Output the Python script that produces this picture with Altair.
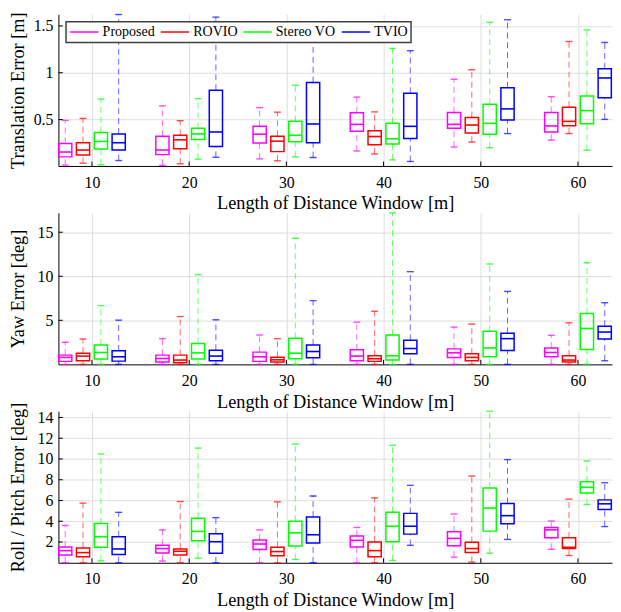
import altair as alt
import pandas as pd

windows = [10, 20, 30, 40, 50, 60]
methods = ["Proposed", "ROVIO", "Stereo VO", "TVIO"]
colors = ["#FF00FF", "#FF0000", "#00FF00", "#0000FF"]
offsets = [-2.75, -0.92, 0.92, 2.75]   # layout: position of each method inside a group
half_box = 0.68                         # layout: half box width in x units

# [lower whisker, Q1, median, Q3, upper whisker] for windows 10..60
trans_proposed = [[0.014, 0.102, 0.154, 0.246, 0.491], [0.011, 0.126, 0.175, 0.323, 0.646],
                  [0.081, 0.249, 0.344, 0.428, 0.628], [0.165, 0.375, 0.449, 0.572, 0.740],
                  [0.207, 0.407, 0.449, 0.575, 0.930], [0.281, 0.368, 0.432, 0.575, 0.744]]
trans_rovio = [[0.035, 0.123, 0.175, 0.253, 0.512], [0.028, 0.189, 0.284, 0.333, 0.488],
               [0.060, 0.158, 0.270, 0.323, 0.579], [0.133, 0.232, 0.319, 0.382, 0.582],
               [0.260, 0.358, 0.442, 0.523, 1.032], [0.351, 0.435, 0.481, 0.632, 1.333]]
trans_stereo = [[0.018, 0.186, 0.267, 0.361, 0.719], [0.077, 0.288, 0.347, 0.407, 0.723],
                [0.102, 0.263, 0.333, 0.481, 0.867], [0.070, 0.239, 0.295, 0.460, 1.260],
                [0.200, 0.344, 0.460, 0.663, 1.537], [0.172, 0.456, 0.596, 0.751, 1.456]]
trans_tvio = [[0.063, 0.175, 0.253, 0.347, 1.621], [0.098, 0.214, 0.368, 0.814, 1.593],
              [0.095, 0.253, 0.453, 0.895, 1.400], [0.053, 0.298, 0.428, 0.782, 1.235],
              [0.351, 0.495, 0.614, 0.839, 1.565], [0.502, 0.733, 0.944, 1.042, 1.323]]

yaw_proposed = [[0, 0.34, 0.79, 1.05, 2.51], [0, 0.26, 0.67, 1.05, 2.92], [0, 0.34, 0.86, 1.39, 3.33],
                [0, 0.41, 0.94, 1.65, 4.79], [0, 0.79, 1.31, 1.76, 4.23], [0, 0.86, 1.35, 1.87, 3.30]]
yaw_rovio = [[0, 0.41, 0.94, 1.27, 2.88], [0, 0.19, 0.49, 1.05, 5.43], [0, 0.26, 0.52, 0.82, 2.92],
             [0, 0.34, 0.64, 0.97, 6.03], [0, 0.41, 0.79, 1.20, 4.57], [0, 0.26, 0.49, 0.97, 4.72]]
yaw_stereo = [[0, 0.60, 1.35, 2.21, 6.67], [0, 0.60, 1.31, 2.36, 10.19], [0, 0.64, 1.27, 2.96, 14.31],
              [0, 0.49, 0.97, 3.33, 17.2], [0, 0.86, 1.87, 3.75, 11.39], [0, 1.69, 4.08, 5.77, 11.54]]
yaw_tvio = [[0, 0.37, 0.86, 1.54, 5.02], [0, 0.41, 0.94, 1.61, 5.06], [0, 0.75, 1.46, 2.21, 7.23],
            [0, 1.20, 1.80, 2.73, 10.52], [0, 1.57, 2.92, 3.52, 8.28], [0.41, 2.88, 3.67, 4.34, 7.00]]

rp_proposed = [[0, 0.76, 1.17, 1.52, 3.59], [0.16, 0.95, 1.37, 1.68, 3.17], [0, 1.27, 1.81, 2.19, 3.17],
               [0, 1.52, 2.16, 2.57, 3.40], [0.54, 1.65, 2.35, 2.98, 4.70], [1.30, 2.41, 3.17, 3.40, 4.03]]
rp_rovio = [[0, 0.57, 0.98, 1.43, 5.75], [0, 0.76, 1.11, 1.33, 5.90], [0, 0.67, 1.08, 1.49, 5.87],
            [0, 0.57, 1.17, 2.00, 6.25], [0.06, 0.98, 1.37, 1.97, 8.35], [0.70, 1.37, 1.49, 2.41, 6.13]]
rp_stereo = [[0.19, 1.49, 2.51, 3.78, 10.48], [0.44, 2.13, 3.02, 4.29, 11.05], [0.32, 1.62, 2.89, 4.00, 11.43],
             [0.22, 2.03, 3.52, 4.86, 11.33], [0.92, 3.05, 5.27, 7.21, 14.6], [5.62, 6.73, 7.27, 7.81, 9.81]]
rp_tvio = [[0, 0.79, 1.33, 2.51, 4.86], [0, 0.92, 2.03, 2.79, 4.35], [0, 1.90, 2.70, 4.41, 6.44],
           [1.68, 2.76, 3.52, 4.76, 7.46], [2.25, 3.75, 4.54, 5.71, 9.94], [3.49, 5.14, 5.68, 6.06, 7.71]]

trans_ticks = [0.5, 1, 1.5]
yaw_ticks = [5, 10, 15]
rp_ticks = [2, 4, 6, 8, 10, 12, 14]

W, H = 560, 153.3
FONT = "Liberation Serif"
X_DOMAIN = [6.55, 63.5]


def panel(series, ytitle, ydomain, yticks, yformat, show_legend):
    rows = []
    for m, off, data in zip(methods, offsets, series):
        for w, (lo, q1, med, q3, hi) in zip(windows, data):
            rows.append(dict(method=m, window=w, x=w + off, lo=lo, q1=q1, med=med, q3=q3, hi=hi))
    df = pd.DataFrame(rows)

    xs = alt.Scale(domain=X_DOMAIN, nice=False, zero=False)
    ys = alt.Scale(domain=ydomain, nice=False, zero=False)
    cscale = alt.Scale(domain=methods, range=colors)
    if show_legend:
        legend = alt.Legend(orient="none", legendX=7.7, legendY=7.3, direction="horizontal",
                            title=None, symbolType="stroke", symbolSize=824, clipHeight=15,
                            symbolStrokeWidth=2, symbolOpacity=0.75,
                            labelFont=FONT, labelFontSize=14.2, labelColor="black",
                            labelOffset=3, columnPadding=4.6, padding=3,
                            fillColor="white", strokeColor="#404040")
        color = alt.Color("method:N", scale=cscale, legend=legend)
    else:
        color = alt.Color("method:N", scale=cscale, legend=None)

    xaxis = alt.Axis(values=windows, format="d", title="Length of Distance Window [m]",
                     labelOverlap=False,
                     grid=True, gridColor="#dedede", gridWidth=1,
                     ticks=False, tickSize=0, domainColor="black", domainWidth=1,
                     labelFont=FONT, labelFontSize=16, labelColor="black", labelPadding=8.3,
                     titleFont=FONT, titleFontSize=18.5, titleFontWeight="normal",
                     titleColor="black", titlePadding=4)
    yaxis = alt.Axis(values=yticks, format=yformat, title=ytitle, labelOverlap=False,
                     grid=True, gridColor="#dedede", gridWidth=1,
                     ticks=False, tickSize=0, domainColor="black", domainWidth=1,
                     labelFont=FONT, labelFontSize=16, labelColor="black", labelPadding=5.6,
                     titleFont=FONT, titleFontSize=18.5, titleFontWeight="normal",
                     titleColor="black", titleX=-35, titleBaseline="alphabetic")

    def X(field):
        return alt.X(field, scale=xs, axis=xaxis)

    def Y(field):
        return alt.Y(field, scale=ys, axis=yaxis)

    base = alt.Chart(df).transform_calculate(
        xl=f"datum.x - {half_box}", xr=f"datum.x + {half_box}")

    upper = base.mark_rule(strokeDash=[6, 4], strokeWidth=1, opacity=0.6).encode(
        x=X("x:Q"), y=Y("q3:Q"), y2="hi:Q", color=color)
    lower = base.mark_rule(strokeDash=[6, 4], strokeWidth=1, opacity=0.6).encode(
        x=X("x:Q"), y=Y("lo:Q"), y2="q1:Q", color=color)
    cap_hi = base.mark_tick(orient="horizontal", size=7, thickness=1.4).encode(
        x=X("x:Q"), y=Y("hi:Q"), color=color)
    cap_lo = base.mark_tick(orient="horizontal", size=7, thickness=1.4).encode(
        x=X("x:Q"), y=Y("lo:Q"), color=color)
    box = base.mark_rect(filled=False, strokeWidth=1.5).encode(
        x=X("xl:Q"), x2="xr:Q", y=Y("q1:Q"), y2="q3:Q", color=color)
    median = base.mark_rule(strokeWidth=1.6).encode(
        x=X("xl:Q"), x2="xr:Q", y=Y("med:Q"), color=color)

    xt = alt.Chart(pd.DataFrame({"t": windows})).mark_rule(color="black", strokeWidth=1).encode(
        x=X("t:Q"), y=alt.value(H - 4.5), y2=alt.value(H))
    yt = alt.Chart(pd.DataFrame({"t": yticks})).mark_rule(color="black", strokeWidth=1).encode(
        y=Y("t:Q"), x=alt.value(0), x2=alt.value(4.5))

    return alt.layer(upper, lower, cap_hi, cap_lo, box, median, xt, yt).properties(width=W, height=H)


p1 = panel([trans_proposed, trans_rovio, trans_stereo, trans_tvio],
           "Translation Error [m]", [0.005, 1.622], trans_ticks, ".2~f", True)
p2 = panel([yaw_proposed, yaw_rovio, yaw_stereo, yaw_tvio],
           "Yaw Error [deg]", [0, 17.2], yaw_ticks, "d", False)
p3 = panel([rp_proposed, rp_rovio, rp_stereo, rp_tvio],
           "Roll / Pitch Error [deg]", [0, 14.6], rp_ticks, "d", False)

chart = alt.vconcat(p1, p2, p3, spacing=46.7, bounds="flush").resolve_legend(
    color="independent").properties(
    padding={"left": 0, "top": 0, "right": 0, "bottom": 0},
    background="white",
).configure_view(stroke=None).configure_legend(strokeWidth=1.5).configure_axis(labelOverlap=False)

chart.save("out.html", embed_options={"renderer": "svg", "actions": False})
